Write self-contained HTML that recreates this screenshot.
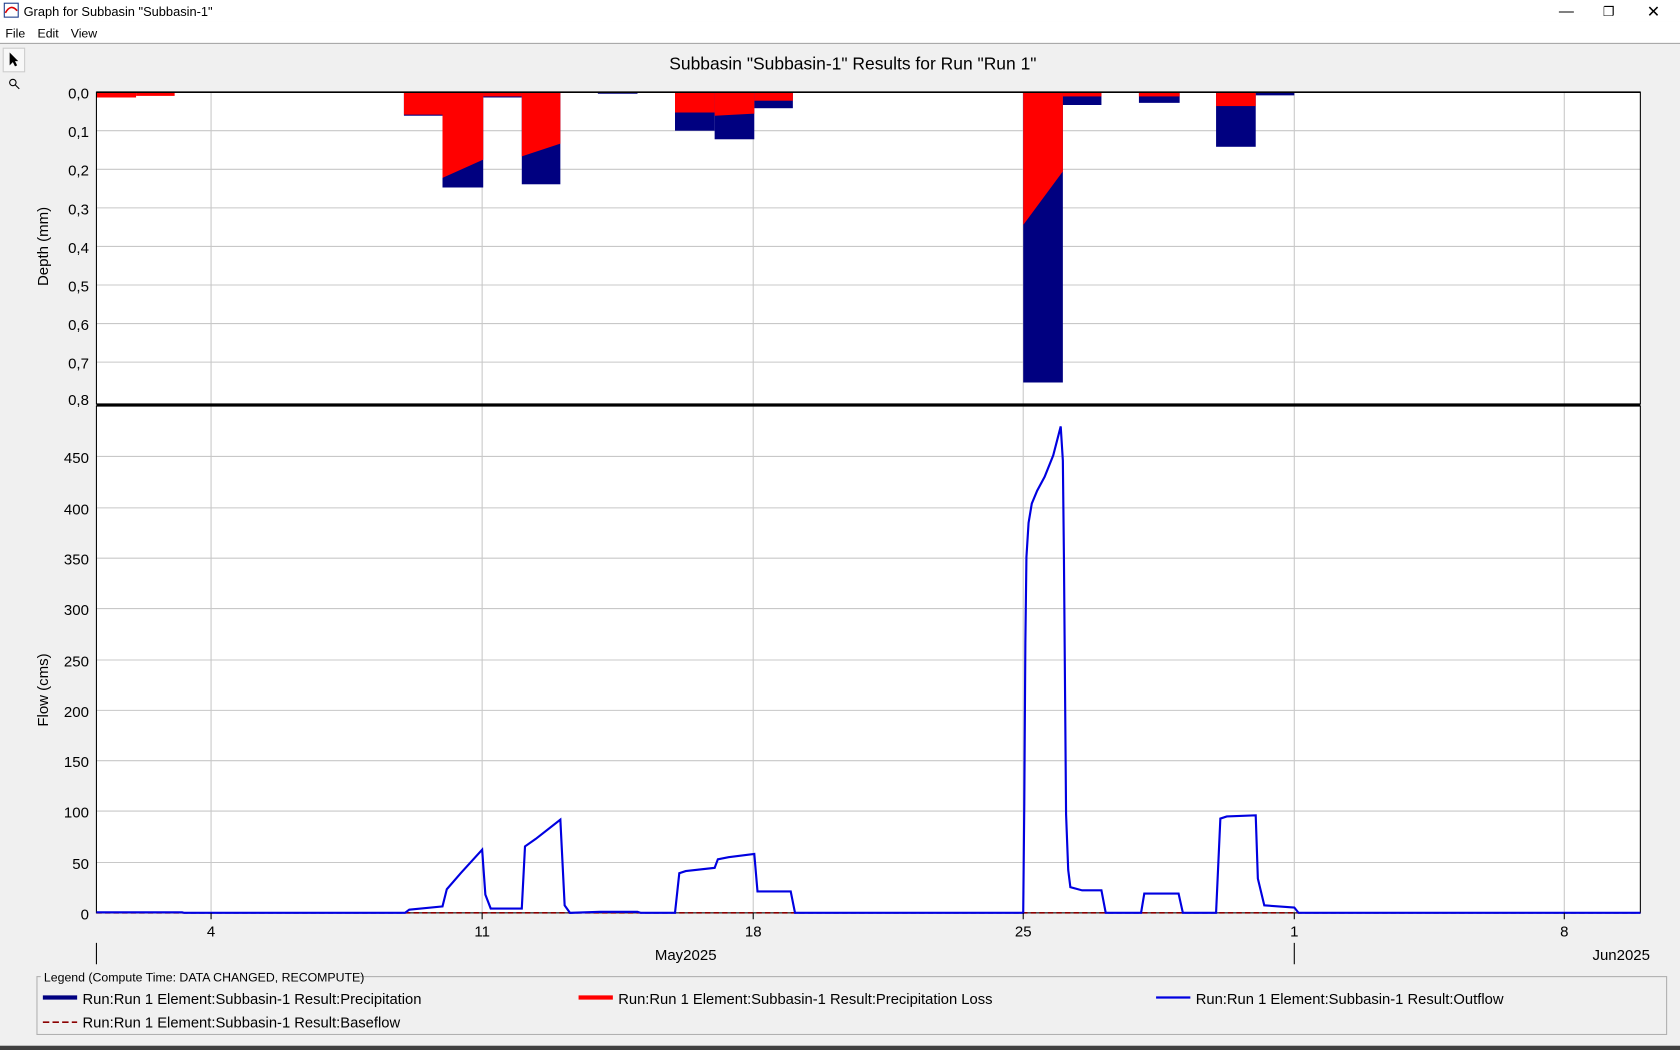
<!DOCTYPE html>
<html><head><style>html,body{margin:0;padding:0;background:#f0f0f0;overflow:hidden}svg{display:block}text{font-family:"Liberation Sans",sans-serif}</style></head>
<body>
<svg width="1680" height="1050" viewBox="0 0 1568 980" preserveAspectRatio="none" xmlns="http://www.w3.org/2000/svg">
<rect width="1568" height="980" fill="#f0f0f0"/>
<rect width="1568" height="20" fill="#fff"/>
<rect x="4" y="3" width="13" height="13" fill="#fff" stroke="#1a3a8a"/><path d="M5 12 Q10 3 16 10" stroke="#d00" fill="none" stroke-width="1.5"/>
<text x="22" y="15" font-size="12">Graph for Subbasin "Subbasin-1"</text>
<text x="1455" y="15" font-size="14">—</text><text x="1496" y="15" font-size="12">❐</text><text x="1537" y="16" font-size="15">✕</text>
<rect y="20" width="1568" height="20" fill="#fff"/>
<text x="5" y="35" font-size="11.5">File</text><text x="35" y="35" font-size="11.5">Edit</text><text x="66" y="35" font-size="11.5">View</text>
<line x1="0" y1="40.5" x2="1568" y2="40.5" stroke="#a0a0a0"/>
<rect x="3" y="45" width="20" height="22" fill="#f8f8f8" stroke="#ccc"/>
<path d="M9 49 L9 61 L12 58 L14 62 L16 61 L14 57 L17 57 Z" fill="#000"/>
<circle cx="12" cy="77" r="3" fill="none" stroke="#000"/><line x1="14" y1="79" x2="18" y2="83" stroke="#000"/>
<text x="796" y="65" font-size="16.3" text-anchor="middle">Subbasin "Subbasin-1" Results for Run "Run 1"</text>
<rect x="90" y="86" width="1441" height="291" fill="#fff"/>
<rect x="90" y="379" width="1441" height="473" fill="#fff"/>
<g stroke="#c8c8c8" stroke-width="1">
<path d="M90 122H1531M90 158H1531M90 194H1531M90 230H1531M90 266H1531M90 302H1531M90 338H1531"/>
<path d="M90 805H1531M90 757H1531M90 710H1531M90 663H1531M90 616H1531M90 568H1531M90 521H1531M90 474H1531M90 426H1531"/>
<path d="M197 86V377M450 86V377M703 86V377M955 86V377M1208 86V377M1460 86V377"/>
<path d="M197 379V852M450 379V852M703 379V852M955 379V852M1208 379V852M1460 379V852"/>
</g>
<g fill="#000080">
<rect x="377" y="86" width="36" height="22"/>
<rect x="413" y="86" width="38" height="89"/>
<rect x="451" y="86" width="36" height="5"/>
<rect x="487" y="86" width="36" height="86"/>
<rect x="558" y="86" width="37" height="1.5"/>
<rect x="630" y="86" width="37" height="36"/>
<rect x="667" y="86" width="37" height="44"/>
<rect x="704" y="86" width="36" height="15"/>
<rect x="955" y="86" width="37" height="271"/>
<rect x="992" y="86" width="36" height="12"/>
<rect x="1063" y="86" width="38" height="10"/>
<rect x="1135" y="86" width="37" height="51"/>
<rect x="1172" y="86" width="36" height="3"/>
</g>
<g fill="#ff0000">
<rect x="90" y="86" width="37" height="5"/>
<rect x="127" y="86" width="36" height="3.5"/>
<rect x="377" y="86" width="36" height="21"/>
<path d="M413 86H451V149L413 166Z"/>
<rect x="451" y="86" width="36" height="4"/>
<path d="M487 86H523V134L487 146Z"/>
<path d="M630 86H667V105H630Z"/>
<path d="M667 86H704V106L667 108Z"/>
<rect x="704" y="86" width="36" height="8"/>
<path d="M955 86H992V160L955 210Z"/>
<rect x="992" y="86" width="36" height="4"/>
<rect x="1063" y="86" width="38" height="4"/>
<rect x="1135" y="86" width="37" height="13"/>
</g>
<rect x="90" y="86" width="1441" height="291" fill="none" stroke="#000"/>
<line x1="90" y1="86" x2="1531" y2="86" stroke="#000" stroke-width="1.5"/>
<line x1="90" y1="378" x2="1531" y2="378" stroke="#000" stroke-width="2"/>
<rect x="90" y="379" width="1441" height="473" fill="none" stroke="#000"/>
<line x1="90" y1="852" x2="1531" y2="852" stroke="#8b0000" stroke-dasharray="5,3" stroke-width="1.5"/>
<path fill="none" stroke="#0000e0" stroke-width="2" d="M90 851.5L170 851.5L172 852L378 852L382 849L413 846L417 830L430 815L450 793L453 835L458 848L487 848L490 790L500 783L523 765L527 845L532 852L560 851L595 851L598 852L630 852L634 815L640 813L667 810L670 802L680 800L704 797L707 832L738 832L742 852L955 852L956 750L957 600L958 520L960 488L963 470L968 458L975 445L983 425L990 398L992 430L993 520L995 760L997 812L999 828L1010 831L1028 831L1032 852L1065 852L1068 834L1100 834L1104 852L1135 852L1139 764L1145 762L1172 761L1174 820L1180 845L1208 847L1212 852L1531 852"/>
<g font-size="14" text-anchor="end">
<text x="83" y="92">0,0</text><text x="83" y="128">0,1</text><text x="83" y="164">0,2</text><text x="83" y="200">0,3</text><text x="83" y="236">0,4</text><text x="83" y="272">0,5</text><text x="83" y="308">0,6</text><text x="83" y="344">0,7</text><text x="83" y="378">0,8</text>
<text x="83" y="858">0</text><text x="83" y="811">50</text><text x="83" y="763">100</text><text x="83" y="716">150</text><text x="83" y="669">200</text><text x="83" y="622">250</text><text x="83" y="574">300</text><text x="83" y="527">350</text><text x="83" y="480">400</text><text x="83" y="432">450</text>
</g>
<text transform="translate(45 230) rotate(-90)" font-size="14" text-anchor="middle">Depth (mm)</text>
<text transform="translate(45 644) rotate(-90)" font-size="14" text-anchor="middle">Flow (cms)</text>
<g stroke="#000"><path d="M197 852V858M450 852V858M703 852V858M955 852V858M1208 852V858M1460 852V858M90 880V900M1208 880V900"/></g>
<g font-size="14" text-anchor="middle">
<text x="197" y="874">4</text><text x="450" y="874">11</text><text x="703" y="874">18</text><text x="955" y="874">25</text><text x="1208" y="874">1</text><text x="1460" y="874">8</text>
<text x="640" y="896">May2025</text></g>
<text x="1540" y="896" font-size="14" text-anchor="end">Jun2025</text>
<rect x="34.5" y="911.5" width="1521" height="54" fill="none" stroke="#b0b0b0"/>
<rect x="38" y="905" width="295" height="12" fill="#f0f0f0"/>
<text x="41" y="916" font-size="11.5">Legend (Compute Time: DATA CHANGED, RECOMPUTE)</text>
<g font-size="13.8">
<line x1="40" y1="931" x2="72" y2="931" stroke="#000080" stroke-width="4"/><text x="77" y="937">Run:Run 1 Element:Subbasin-1 Result:Precipitation</text>
<line x1="540" y1="931" x2="572" y2="931" stroke="#ff0000" stroke-width="4"/><text x="577" y="937">Run:Run 1 Element:Subbasin-1 Result:Precipitation Loss</text>
<line x1="1079" y1="931" x2="1111" y2="931" stroke="#0000e0" stroke-width="2"/><text x="1116" y="937">Run:Run 1 Element:Subbasin-1 Result:Outflow</text>
<line x1="40" y1="954" x2="72" y2="954" stroke="#8b0000" stroke-width="1.5" stroke-dasharray="6,3"/><text x="77" y="959">Run:Run 1 Element:Subbasin-1 Result:Baseflow</text>
</g>
<rect y="976" width="1568" height="4" fill="#404040"/>
</svg>
</body></html>
